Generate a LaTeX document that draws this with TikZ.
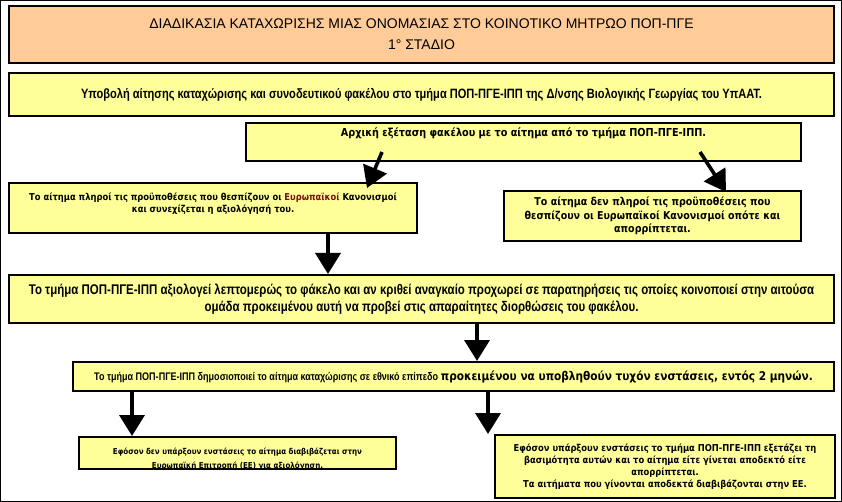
\documentclass[tikz,border=0pt]{standalone}
\usepackage{fontspec}
\setmainfont{DejaVu Sans}[FakeStretch=0.88]
\newfontfamily\narrowfont{Liberation Sans}[FakeStretch=0.82]
\newfontfamily\headfont{Liberation Sans}
\usepackage{xcolor}
\usetikzlibrary{arrows.meta,positioning}

\definecolor{boxyellow}{HTML}{FFFF99}
\definecolor{boxorange}{HTML}{FFCC99}
\definecolor{eured}{HTML}{7A1010}

\begin{document}
\begin{tikzpicture}[
    x=1pt, y=-1pt,
    font=\bfseries\fontsize{9.5}{12}\selectfont,
    box/.style={
        draw,
        line width=2pt,
        fill=boxyellow,
        align=center,
        inner sep=0pt,
        anchor=north west
    },
    titlebox/.style={box, fill=boxorange,
        font=\headfont\fontsize{14}{17}\selectfont},
    narrowbox/.style={box,
        font=\narrowfont\bfseries\fontsize{13.5}{16}\selectfont},
    bigarrow/.style={-{Triangle[length=21pt,width=25pt]}, line width=3.6pt}
]
\useasboundingbox (0,0) rectangle (842,502);
\draw[line width=0.8pt] (0.5,0.5) rectangle (841.5,501.5);

% stage header
\node[titlebox, minimum width=825pt, minimum height=57pt] (title) at (8,5)
    {ΔΙΑΔΙΚΑΣΙΑ ΚΑΤΑΧΩΡΙΣΗΣ ΜΙΑΣ ΟΝΟΜΑΣΙΑΣ ΣΤΟ ΚΟΙΝΟΤΙΚΟ ΜΗΤΡΩΟ ΠΟΠ-ΠΓΕ\\[4pt]
    1° ΣΤΑΔΙΟ};

\node[narrowbox, minimum width=825pt, minimum height=43pt] (submit) at (8,72)
    {Υποβολή αίτησης καταχώρισης και συνοδευτικού φακέλου στο τμήμα ΠΟΠ-ΠΓΕ-ΙΠΠ της Δ/νσης Βιολογικής Γεωργίας του ΥπΑΑΤ.};

\node[box, minimum width=555pt, text height=14pt, text depth=24pt,
    font=\bfseries\fontsize{11}{13}\selectfont] (exam) at (245,122)
    {Αρχική εξέταση φακέλου με το αίτημα από το τμήμα ΠΟΠ-ΠΓΕ-ΙΠΠ.};

% outcome of the first check
\node[box, minimum width=408pt, minimum height=50pt] (accept) at (8,182)
    {Το αίτημα πληροί τις προϋποθέσεις που θεσπίζουν οι \textcolor{eured}{Ευρωπαϊκοί} Κανονισμοί\\
    και συνεχίζεται η αξιολόγησή του.\\[-2pt]};
\node[box, minimum width=297pt, minimum height=50pt,
    font=\bfseries\fontsize{10.8}{13.5}\selectfont] (reject) at (503,190)
    {Το αίτημα δεν πληροί τις προϋποθέσεις που\\
    θεσπίζουν οι Ευρωπαϊκοί Κανονισμοί οπότε και\\
    απορρίπτεται.};

\node[narrowbox, minimum width=825pt, minimum height=48pt,
    font=\narrowfont\bfseries\fontsize{14}{16.5}\selectfont] (review) at (8,274)
    {Το τμήμα ΠΟΠ-ΠΓΕ-ΙΠΠ αξιολογεί λεπτομερώς το φάκελο και αν κριθεί αναγκαίο προχωρεί σε παρατηρήσεις τις οποίες κοινοποιεί στην αιτούσα\\
    ομάδα προκειμένου αυτή να προβεί στις απαραίτητες διορθώσεις του φακέλου.};

\node[box, minimum width=761pt, minimum height=29pt] (publish) at (72,361)
    {{\narrowfont\bfseries\fontsize{11}{13}\selectfont Το τμήμα ΠΟΠ-ΠΓΕ-ΙΠΠ δημοσιοποιεί το αίτημα καταχώρισης σε εθνικό επίπεδο}
    {\fontsize{12}{14}\selectfont προκειμένου να υποβληθούν τυχόν ενστάσεις, εντός 2 μηνών.}};

% after the two months
\node[box, minimum width=317pt, minimum height=32pt] (noobj) at (78,436) {};
\begin{scope}
\clip ([shift={(1,-1)}]noobj.south west) rectangle ([shift={(-1,1)}]noobj.north east);
\node[align=center, anchor=north, inner sep=0pt,
    font=\bfseries\fontsize{8.1}{10}\selectfont] (noobjtext) at ([yshift=-12pt]noobj.north)
    {Εφόσον δεν υπάρξουν ενστάσεις το αίτημα διαβιβάζεται στην\\[4pt]
    Ευρωπαϊκή Επιτροπή (ΕΕ) για αξιολόγηση.};
\end{scope}
\node[box, minimum width=340pt, minimum height=63pt,
    font=\bfseries\fontsize{9.5}{11.8}\selectfont] (objection) at (494,434)
    {Εφόσον υπάρξουν ενστάσεις το τμήμα ΠΟΠ-ΠΓΕ-ΙΠΠ εξετάζει τη\\
    βασιμότητα αυτών και το αίτημα είτε γίνεται αποδεκτό είτε\\
    απορρίπτεται.\\
    Τα αιτήματα που γίνονται αποδεκτά διαβιβάζονται στην ΕΕ.};

\draw[bigarrow] ([shift={(137,-10)}]exam.south west) -- ([shift={(359,6)}]accept.north west);
\draw[bigarrow] ([shift={(455,-10)}]exam.south west) -- ([shift={(223,2)}]reject.north west);
\draw[bigarrow] ([xshift=320pt]accept.south west) -- ([xshift=320pt]accept.south west |- review.north);
\draw[bigarrow] ([xshift=469pt]review.south west) -- ([xshift=469pt]review.south west |- publish.north);
\draw[bigarrow] ([xshift=60pt]publish.south west) -- ([xshift=60pt]publish.south west |- noobj.north);
\draw[bigarrow] ([xshift=416pt]publish.south west) -- ([xshift=416pt]publish.south west |- objection.north);
\end{tikzpicture}
\end{document}
